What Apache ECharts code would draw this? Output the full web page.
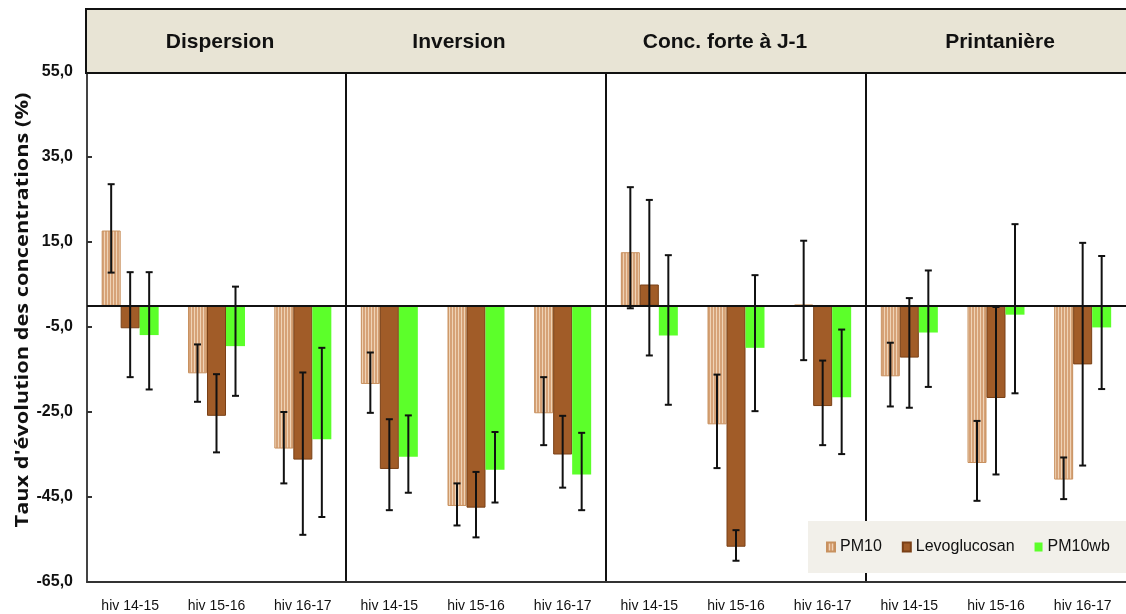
<!DOCTYPE html>
<html>
<head>
<meta charset="utf-8">
<script src="https://cdn.jsdelivr.net/npm/echarts@6/dist/echarts.min.js"></script>
<style>
  html, body { margin: 0; padding: 0; background: #fff; }
  #chart { width: 1126px; height: 614px; }
</style>
</head>
<body>
<div id="chart"></div>
<script>
// data (panel-major: 3 winters per panel)
const panels = ['Dispersion', 'Inversion', 'Conc. forte à J-1', 'Printanière'];
const categories = ['hiv 14-15', 'hiv 15-16', 'hiv 16-17'];
const seriesNames = ['PM10', 'Levoglucosan', 'PM10wb'];
const yTitle = "Taux d'évolution des concentrations (%)";

const pm10 = [17.7, -15.9, -33.6, -18.4, -47.1, -25.3, 12.6, -27.9, 0.3, -16.6, -37.0, -40.9];
const pm10Up = [10.9, 6.8, 8.6, 7.4, 5.3, 8.5, 15.3, 11.7, 15.0, 7.9, 9.9, 5.2];
const pm10Down = [9.9, 6.7, 8.2, 6.8, 4.6, 7.5, 13.2, 10.3, 13.1, 7.1, 8.9, 4.6];

const levo = [-5.3, -25.9, -36.2, -38.4, -47.5, -35.0, 5.0, -56.7, -23.6, -12.2, -21.7, -13.8];
const levoUp = [13.2, 9.8, 20.5, 11.7, 8.4, 9.1, 19.9, 3.9, 10.7, 14.0, 21.4, 28.6];
const levoDown = [11.5, 8.6, 17.7, 9.7, 7.0, 7.8, 16.7, 3.3, 9.2, 11.8, 18.0, 23.8];

const pm10wb = [-6.9, -9.5, -31.4, -35.5, -38.6, -39.7, -7.0, -9.9, -21.5, -6.3, -2.1, -5.1];
const pm10wbUp = [14.8, 14.0, 21.5, 9.7, 8.9, 9.8, 18.9, 17.1, 15.9, 14.6, 21.3, 16.8];
const pm10wbDown = [12.8, 11.7, 18.3, 8.5, 7.7, 8.4, 16.3, 14.9, 13.4, 12.8, 18.5, 14.5];

const yMin = -65, yMax = 55, yStep = 20;

// striped fill for PM10
const stripe = document.createElement('canvas');
stripe.width = 3; stripe.height = 4;
(function () {
  const c = stripe.getContext('2d');
  c.fillStyle = '#d6a277'; c.fillRect(0, 0, 3, 4);
  c.fillStyle = '#efd3b6'; c.fillRect(2, 0, 1, 4);
})();

const barW = 19;
const gridLeft = [87, 346, 606, 866];
const gridWidth = [259, 260, 260, 260];
const headerCx = [220, 459, 725, 1000];
const fontFam = '"Liberation Sans", Arial, sans-serif';

const allVals = [pm10, levo, pm10wb];
const allUp = [pm10Up, levoUp, pm10wbUp];
const allDown = [pm10Down, levoDown, pm10wbDown];
const barStyles = [
  { color: { image: stripe, repeat: 'repeat' }, borderColor: '#c8915f', borderWidth: 1 },
  { color: '#a15c28', borderColor: '#7a4016', borderWidth: 1 },
  { color: '#5cff2a' }
];

const chart = echarts.init(document.getElementById('chart'));

const grids = [], xAxes = [], yAxes = [], series = [];
panels.forEach((p, i) => {
  grids.push({ left: gridLeft[i], width: gridWidth[i], top: 72, bottom: 32 });
  xAxes.push({
    type: 'category', gridIndex: i, data: categories,
    axisLine: { onZero: false, lineStyle: { color: '#333', width: 2 } },
    axisTick: { show: false },
    axisLabel: { color: '#111', fontSize: 14, fontFamily: fontFam, margin: 17 }
  });
  yAxes.push({
    type: 'value', gridIndex: i, min: yMin, max: yMax, interval: yStep,
    axisLine: { show: true, lineStyle: { color: i === 0 ? '#444' : '#111', width: 2 } },
    axisTick: { show: i === 0, inside: true, length: 5, lineStyle: { color: '#333', width: 2 } },
    axisLabel: {
      show: i === 0, color: '#111', fontSize: 16, fontWeight: 'bold', fontFamily: fontFam, margin: 14,
      formatter: v => v.toFixed(1).replace('.', ',')
    },
    splitLine: { show: false }
  });
  seriesNames.forEach((name, k) => {
    const s = {
      name: name, type: 'bar', xAxisIndex: i, yAxisIndex: i,
      barWidth: barW, barGap: '0%',
      itemStyle: barStyles[k],
      data: allVals[k].slice(i * 3, i * 3 + 3)
    };
    if (k === 0) {
      s.markLine = {
        silent: true, symbol: 'none', label: { show: false },
        lineStyle: { color: '#111', width: 2, type: 'solid' },
        data: [{ yAxis: 0 }]
      };
    }
    series.push(s);
  });
  const errData = [];
  for (let c = 0; c < 3; c++) {
    for (let k = 0; k < 3; k++) {
      const v = allVals[k][i * 3 + c];
      errData.push([c, v - allDown[k][i * 3 + c], v + allUp[k][i * 3 + c], k]);
    }
  }
  series.push({
    name: 'err', type: 'custom', xAxisIndex: i, yAxisIndex: i, z: 5,
    encode: { x: 0, y: [1, 2] },
    data: errData,
    renderItem: (params, api) => {
      const hi = api.coord([api.value(0), api.value(2)]);
      const lo = api.coord([api.value(0), api.value(1)]);
      const cx = hi[0] + (api.value(3) - 1) * barW;
      const st = { stroke: '#111', lineWidth: 2 };
      return {
        type: 'group', children: [
          { type: 'line', shape: { x1: cx, y1: hi[1], x2: cx, y2: lo[1] }, style: st },
          { type: 'line', shape: { x1: cx - 3.5, y1: hi[1], x2: cx + 3.5, y2: hi[1] }, style: st },
          { type: 'line', shape: { x1: cx - 3.5, y1: lo[1], x2: cx + 3.5, y2: lo[1] }, style: st }
        ]
      };
    }
  });
});

const headerTexts = panels.map((p, i) => ({
  type: 'text', x: headerCx[i], y: 42, z: 11,
  style: { text: p, align: 'center', verticalAlign: 'middle', font: 'bold 21px ' + fontFam, fill: '#111' }
}));

chart.setOption({
  animation: false,
  grid: grids,
  xAxis: xAxes,
  yAxis: yAxes,
  legend: {
    data: seriesNames,
    left: 808, top: 521, width: 318,
    backgroundColor: '#f2f0ea',
    padding: [18, 20, 18, 18],
    itemWidth: 8, itemHeight: 9, itemGap: 20,
    icon: 'rect',
    textStyle: { fontSize: 16, color: '#111', fontFamily: fontFam }
  },
  graphic: [
    { type: 'rect', left: 85, top: 8, z: 10,
      shape: { width: 1045, height: 64 },
      style: { fill: '#e8e4d5', stroke: '#111', lineWidth: 2 } },
    { type: 'text', x: 23, y: 310, rotation: Math.PI / 2, scaleX: 1.21, z: 11,
      style: { text: yTitle, align: 'center', verticalAlign: 'middle',
        font: 'bold 18px "Open Sans", sans-serif', fill: '#111' } }
  ].concat(headerTexts),
  series: series
});
</script>
</body>
</html>
